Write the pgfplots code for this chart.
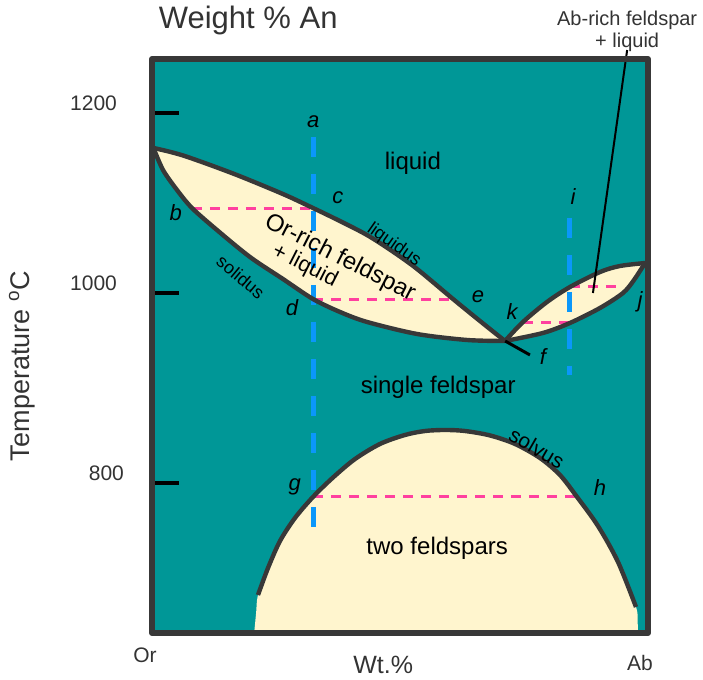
\documentclass[border=0pt]{standalone}
\usepackage{pgfplots}
\pgfplotsset{compat=1.18}
\usepgfplotslibrary{fillbetween}
\usepackage{fontspec}
\setmainfont{Liberation Sans}

\definecolor{melt}{HTML}{009797}
\definecolor{cream}{HTML}{FFF5CE}
\definecolor{frame}{HTML}{383838}
\definecolor{txt}{HTML}{333333}
\definecolor{tie}{HTML}{FF409F}
\definecolor{bulk}{HTML}{0B97FA}

\newcommand{\fs}[1]{\fontsize{#1}{#1}\selectfont}

% phase boundaries (wt.% Ab, temperature in degrees C)
\def\orliquidus{(0.3,1162.2) (6.25,1154.1) (16.33,1134.6) (26.41,1112.4) (32.46,1097.3)
  (37.90,1083.2) (43.35,1068.1) (48.39,1050.8) (53.43,1031.4) (60.69,998.9)
  (66.13,975.1) (71.17,953.5)}
\def\orsolidus{(0.3,1162.2) (2.22,1138.4) (5.04,1116.8) (8.06,1097.3) (13.10,1073.5)
  (19.76,1044.3) (26.41,1020.5) (32.46,998.9) (37.90,984.9) (43.35,974.1)
  (53.43,961.1) (63.51,954.6) (71.17,953.5)}
\def\abliquidus{(71.17,953.5) (74.80,974.1) (79.64,995.7) (84.27,1011.9) (90.32,1028.1)
  (94.35,1034.6) (99.40,1037.8)}
\def\absolidus{(71.17,953.5) (78.83,962.2) (84.27,973.0) (90.32,989.2) (94.96,1005.4)
  (97.18,1019.5) (99.40,1037.8)}
\def\solvus{(21.37,678.9) (23.39,708.1) (25.81,737.3) (28.83,762.2) (32.46,784.9)
  (36.49,805.9) (40.93,825.9) (45.97,842.2) (51.01,851.9) (55.04,856.2) (59.07,857.3)
  (63.10,856.2) (68.15,851.4) (73.19,842.2) (78.23,827.0) (82.26,808.6) (85.69,784.9)
  (89.92,753.5) (93.95,714.6) (97.58,665.9)}

\begin{document}
\begin{tikzpicture}
\begin{axis}[
  at={(0,0)}, anchor=south west,
  scale only axis, width=248pt, height=287pt,
  xmin=0, xmax=100, ymin=637.8, ymax=1258.4,
  clip=false, axis on top,
  axis background/.style={fill=melt},
  axis line style={draw=frame, line width=3pt, line join=round},
  xtick=\empty,
  ytick={800,1005.4,1200}, yticklabels={800\hspace*{-3.5pt},1000,1200},
  ytick pos=left, tick align=inside, major tick length=13.5pt,
  ytick style={black, line width=2pt},
  yticklabel style={font=\fs{10.5}, text=txt, xshift=-14pt, yshift=5pt},
  /pgf/number format/assume math mode=true,
]

% Or-rich feldspar + liquid loop
\addplot[name path=orliq, draw=none, smooth] coordinates {\orliquidus};
\addplot[name path=orsol, draw=none, smooth] coordinates {\orsolidus};
\addplot[cream] fill between[of=orliq and orsol];

% Ab-rich feldspar + liquid loop
\addplot[name path=abliq, draw=none, smooth] coordinates {\abliquidus};
\addplot[name path=absol, draw=none, smooth] coordinates {\absolidus};
\addplot[cream] fill between[of=abliq and absol];

% two-feldspar field under the solvus
\addplot[draw=none, fill=cream, smooth] coordinates {
  (20.6,637.8) (21.0,660.0) \solvus (97.9,650.0) (98.0,637.8)} -- cycle;

% bulk compositions
\addplot[bulk, line width=2.5pt, dash pattern=on 10pt off 8.5pt] coordinates {(32.46,1174.1) (32.46,752.4)};
\addplot[bulk, line width=2.5pt, dash pattern=on 10pt off 8.5pt] coordinates {(84.1,1086.5) (84.1,916.8)};

% tie lines
\addplot[tie, line width=1.5pt, dash pattern=on 5pt off 4pt] coordinates {(8.06,1097.3) (32.46,1097.3)};
\addplot[tie, line width=1.5pt, dash pattern=on 5pt off 4pt] coordinates {(32.46,998.9) (60.69,998.9)};
\addplot[tie, line width=1.5pt, dash pattern=on 5pt off 4pt] coordinates {(32.46,784.9) (85.69,784.9)};
\addplot[tie, line width=1.5pt, dash pattern=on 5pt off 4pt] coordinates {(74.80,973.0) (84.27,973.0)};
\addplot[tie, line width=1.5pt, dash pattern=on 5pt off 4pt] coordinates {(84.27,1011.9) (94.35,1011.9)};

% phase boundaries
\addplot[frame, line width=2.2pt, smooth] coordinates {\orliquidus};
\addplot[frame, line width=2.2pt, smooth] coordinates {\orsolidus};
\addplot[frame, line width=2.2pt, smooth] coordinates {\abliquidus};
\addplot[frame, line width=2.2pt, smooth] coordinates {\absolidus};
\addplot[frame, line width=2.2pt, smooth] coordinates {\solvus};

% leader lines
\addplot[black, line width=1.5pt] coordinates {(71.2,953.5) (76.2,938.4)};
\addplot[black, line width=1pt] coordinates {(95.8,1268.1) (88.9,1005.4)};

% field names
\node[font=\fs{12}] at (axis cs:52.6,1145.9) {liquid};
\node[font=\fs{12}] at (axis cs:57.7,903.8) {single feldspar};
\node[font=\fs{12}] at (axis cs:57.5,729.7) {two feldspars};
\node[font=\fs{12}, rotate=-27] at (axis cs:37.9,1043.2) {Or-rich feldspar};
\node[font=\fs{11}, rotate=-27] at (axis cs:30.8,1034.6) {+ liquid};
\node[font=\fs{9}, rotate=-35] at (axis cs:48.8,1057.3) {liquidus};
\node[font=\fs{9}, rotate=-40] at (axis cs:17.9,1022.7) {solidus};
\node[font=\fs{10.5}, rotate=-30] at (axis cs:77.6,837.8) {solvus};

% point letters
\begin{scope}[every node/.style={font=\fs{11}\itshape}]
\node at (axis cs:32.5,1190.3) {a};
\node at (axis cs:4.8,1091.9) {b};
\node at (axis cs:37.5,1108.1) {c};
\node at (axis cs:28.2,989.2) {d};
\node at (axis cs:65.7,1001.1) {e};
\node at (axis cs:78.8,936.2) {f};
\node at (axis cs:28.8,795.7) {g};
\node at (axis cs:90.3,794.6) {h};
\node at (axis cs:84.9,1109.2) {i};
\node at (axis cs:98.4,995.7) {j};
\node at (axis cs:72.6,984.9) {k};
\end{scope}

% outer labels
\node[font=\fs{15.5}, text=txt] at (axis cs:19.4,1300.5) {Weight \% An};
\node[font=\fs{10}, text=txt] at (axis cs:95.8,1300.5) {Ab-rich feldspar};
\node[font=\fs{10}, text=txt] at (axis cs:95.8,1276.8) {+ liquid};
\node[font=\fs{13.5}, text=txt, rotate=90] at (axis cs:-26.2,926.5) {Temperature \textsuperscript{o}C};
\node[font=\fs{12.5}, text=txt] at (axis cs:46.6,603.2) {Wt.\%};
\node[font=\fs{10.5}, text=txt] at (axis cs:-1.4,614.0) {Or};
\node[font=\fs{10.5}, text=txt] at (axis cs:98.4,605.4) {Ab};
\end{axis}
\pgfresetboundingbox
\useasboundingbox (-76pt,-23.5pt) rectangle (275.5pt,316.5pt);
\end{tikzpicture}
\end{document}
